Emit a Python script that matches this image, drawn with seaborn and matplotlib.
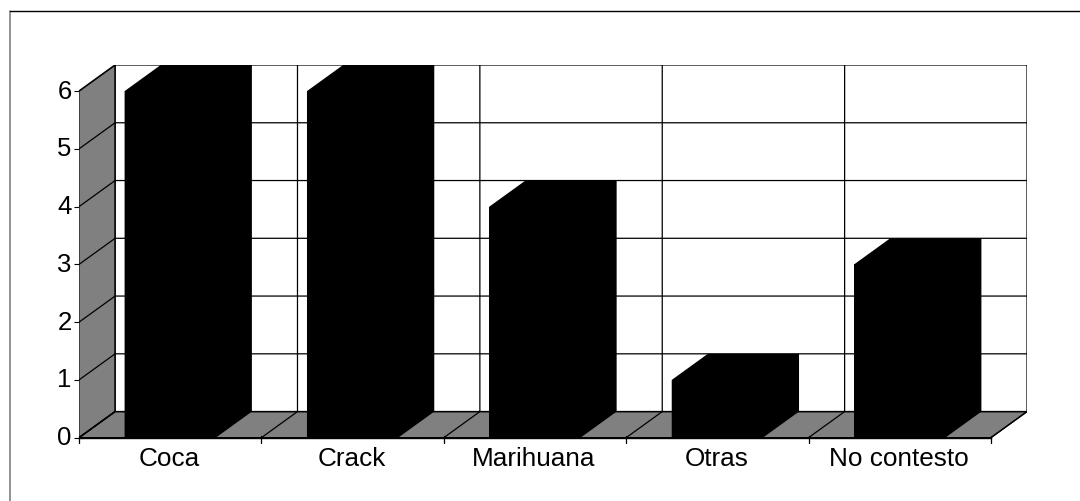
#!/usr/bin/env python3
import pandas as pd
import seaborn as sns
import matplotlib.pyplot as plt
from matplotlib.patches import Polygon
from matplotlib.lines import Line2D
from matplotlib.transforms import ScaledTranslation

categories = ['Coca', 'Crack', 'Marihuana', 'Otras', 'No contesto']
values = [6, 6, 4, 1, 3]
y_ticks = [0, 1, 2, 3, 4, 5, 6]

W, H = 1080, 501
GRAY = '#808080'

# fake 3D depth in data units (182 px per category, 57.8 px per unit)
DX = 0.198
DY = 0.452

sns.set_theme(style='white')
plt.rcParams['font.family'] = ['Liberation Sans', 'DejaVu Sans']

df = pd.DataFrame({'categoria': categories, 'valor': values})

fig = plt.figure(figsize=(W / 100, H / 100), dpi=100)
fig.add_artist(Line2D([9.5 / W, 9.5 / W], [0, 1 - 11 / H], color=GRAY, lw=1.2))
fig.add_artist(Line2D([9.5 / W, 1], [1 - 11 / H, 1 - 11 / H], color='black', lw=1.0))

ax = fig.add_axes([79 / W, 1 - 437.7 / H, 948 / W, 372.7 / H])
sns.barplot(data=df, x='categoria', y='valor', color='black', width=0.5,
            saturation=1, edgecolor='black', linewidth=0, ax=ax, zorder=5)

x0, x1 = -0.5, len(categories) - 0.5
ax.set_xlim(x0, x1 + DX)
ax.set_ylim(0, y_ticks[-1] + DY)

# walls and floor
ax.add_patch(Polygon([(x0, 0), (x0 + DX, DY), (x0 + DX, y_ticks[-1] + DY), (x0, y_ticks[-1])],
                     fc=GRAY, ec='#333333', lw=1.2, zorder=1))
ax.add_patch(Polygon([(x0, 0), (x0 + DX, DY), (x1 + DX, DY), (x1, 0)],
                     fc=GRAY, ec='black', lw=1.0, zorder=1))

# gridlines on the back wall, diagonals on the sides
for t in y_ticks:
    ax.plot([x0, x0 + DX, x1 + DX], [t, t + DY, t + DY], color='black', lw=0.9, zorder=2)
for k in range(len(categories) + 1):
    xk = x0 + k
    ax.plot([xk, xk + DX, xk + DX], [0, DY, y_ticks[-1] + DY], color='black', lw=0.9, zorder=2)

# depth of each bar, same black as the front
for bar in list(ax.patches):
    if bar.get_zorder() != 5:
        continue
    bx, bw, bh = bar.get_x(), bar.get_width(), bar.get_height()
    ax.add_patch(Polygon([(bx, bh), (bx + DX, bh + DY), (bx + bw + DX, bh + DY),
                          (bx + bw + DX, DY), (bx + bw, 0), (bx, 0)],
                         fc='black', ec='none', zorder=5))

for spine in ['top', 'right', 'left']:
    ax.spines[spine].set_visible(False)
ax.spines['bottom'].set_color('black')
ax.spines['bottom'].set_linewidth(1.0)
ax.spines['bottom'].set_bounds(x0, x1)
ax.spines['bottom'].set_zorder(6)

ax.set_yticks(y_ticks)
ax.set_xlabel('')
ax.set_ylabel('')
ax.set_xticks(range(len(categories)))
ax.set_xticklabels(categories)
ax.tick_params(axis='x', length=0, labelsize=18.8, pad=7, colors='black')
ax.tick_params(axis='y', direction='inout', length=6.5, width=0.8, color='black',
               left=True, labelsize=18.5, pad=2, labelcolor='black')
for k in range(len(categories) + 1):
    ax.plot([x0 + k] * 2, [-0.1, 0.03], color='black', lw=0.9, clip_on=False, zorder=6)

# small nudges to line the labels up with the reference
for lab in ax.get_xticklabels():
    lab.set_transform(lab.get_transform() + ScaledTranslation(-1 / 100, 0, fig.dpi_scale_trans))
for lab in ax.get_yticklabels():
    lab.set_transform(lab.get_transform() + ScaledTranslation(0, 2 / 100, fig.dpi_scale_trans))

fig.savefig('out.png', dpi=100, facecolor='white')
